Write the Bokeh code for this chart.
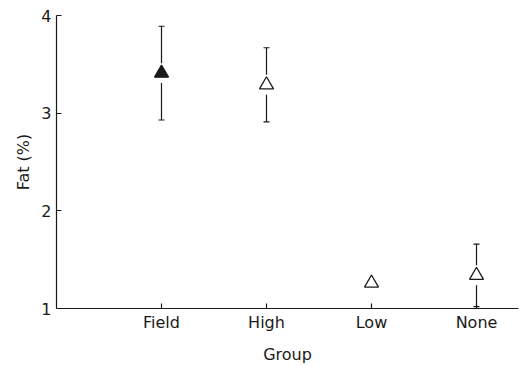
from bokeh.plotting import figure
from bokeh.models import Range1d, ColumnDataSource, Whisker, TeeHead, FixedTicker
from bokeh.embed import file_html
from bokeh.resources import INLINE

# Mean body fat per group with error bars
groups = ["Field", "High", "Low", "None"]
fat_mean = [3.41, 3.29, 1.26, 1.34]
fat_err = [0.48, 0.38, 0.0, 0.32]
filled = [True, False, False, False]
y_ticks = [1, 2, 3, 4]

x_pos = list(range(1, len(groups) + 1))

FONT = "DejaVu Sans"
INK = "#1a1a1a"

p = figure(width=520, height=366, output_backend="svg", toolbar_location=None,
           x_range=Range1d(0, 4.4), y_range=Range1d(1, 4),
           min_border_left=56, min_border_right=2, min_border_top=15, min_border_bottom=58)
p.outline_line_color = None
p.xgrid.visible = False
p.ygrid.visible = False
p.background_fill_color = "white"

# error bars (only where an error is given)
wsrc = ColumnDataSource(dict(
    x=[x for x, e in zip(x_pos, fat_err) if e > 0],
    upper=[m + e for m, e in zip(fat_mean, fat_err) if e > 0],
    lower=[m - e for m, e in zip(fat_mean, fat_err) if e > 0],
))
w = Whisker(source=wsrc, base="x", upper="upper", lower="lower", dimension="height",
            line_color=INK, line_width=1.2,
            upper_head=TeeHead(size=6, line_color=INK, line_width=1.2),
            lower_head=TeeHead(size=6, line_color=INK, line_width=1.2))
p.add_layout(w)

src = ColumnDataSource(dict(
    x=x_pos, y=fat_mean,
    fill=[INK if f else "white" for f in filled],
))
# white gap around each marker
p.scatter("x", "y", source=src, marker="circle", size=20,
          fill_color="white", line_color=None)
p.scatter("x", "y", source=src, marker="triangle", size=14,
          fill_color="fill", line_color=INK, line_width=1.3)

# axes
for ax in (p.xaxis[0], p.yaxis[0]):
    ax.axis_line_color = INK
    ax.axis_line_width = 1.2
    ax.major_tick_line_color = INK
    ax.major_tick_line_width = 1.2
    ax.major_tick_in = 5
    ax.major_tick_out = 0
    ax.minor_tick_line_color = None
    ax.major_label_text_font = FONT
    ax.major_label_text_font_size = "16px"
    ax.major_label_text_color = INK
    ax.axis_label_text_font = FONT
    ax.axis_label_text_font_size = "16px"
    ax.axis_label_text_font_style = "normal"
    ax.axis_label_text_color = INK

p.xaxis.ticker = FixedTicker(ticks=x_pos)
p.xaxis.major_label_overrides = {x: g for x, g in zip(x_pos, groups)}
p.xaxis.axis_label = "Group"
p.xaxis.major_label_standoff = 4
p.xaxis.axis_label_standoff = 10

p.yaxis.ticker = FixedTicker(ticks=y_ticks)
p.yaxis.axis_label = "Fat (%)"
p.yaxis.major_label_standoff = 5
p.yaxis.axis_label_standoff = 5

open("out.html", "w").write(file_html(p, INLINE))
